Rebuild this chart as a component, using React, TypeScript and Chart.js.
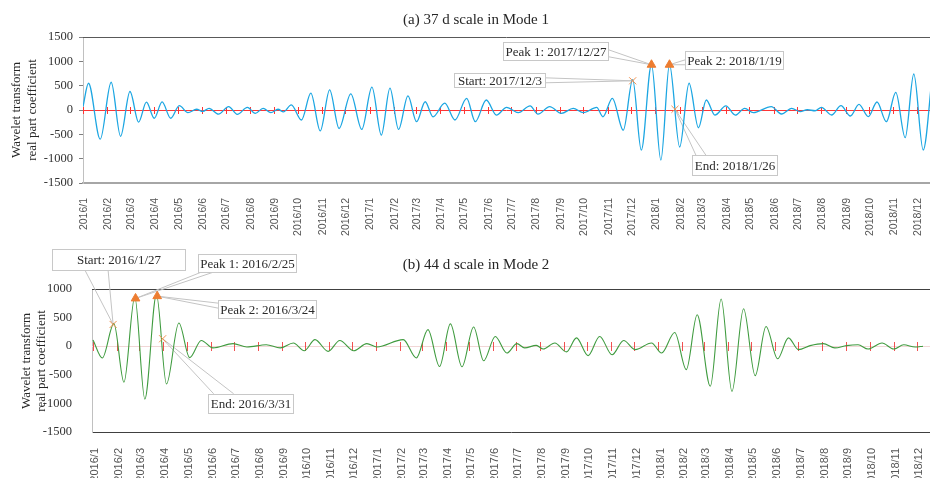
import React, { useEffect, useRef } from 'react';
import { Chart, registerables } from 'chart.js';

Chart.register(...registerables);

// ---------- data ----------
// Month tick labels (first day of each month)
const monthLabels = [
  '2016/1', '2016/2', '2016/3', '2016/4', '2016/5', '2016/6', '2016/7', '2016/8', '2016/9', '2016/10', '2016/11', '2016/12',
  '2017/1', '2017/2', '2017/3', '2017/4', '2017/5', '2017/6', '2017/7', '2017/8', '2017/9', '2017/10', '2017/11', '2017/12',
  '2018/1', '2018/2', '2018/3', '2018/4', '2018/5', '2018/6', '2018/7', '2018/8', '2018/9', '2018/10', '2018/11', '2018/12',
];

// Mode 1 (37 d scale): turning points, day index counted from 2016/1/1
const mode1Days = [
  0, 7, 22, 36, 48, 60, 71, 81, 91, 101, 112, 123, 134, 145, 153, 161, 173, 186, 197, 210, 220, 230, 240, 249, 256,
  266, 279, 291, 303, 315, 327, 342, 356, 369, 381, 392, 403, 415, 426, 437, 447, 462, 475, 490, 501, 515, 528,
  541, 556, 571, 581, 596, 611, 626, 639, 656, 664, 676, 690, 702, 713, 726, 738, 749, 762, 774, 786, 796, 807,
  821, 833, 845, 856, 879, 892, 905, 916, 925, 935, 943, 956, 968, 980, 991, 1003, 1014, 1026, 1038, 1050, 1061,
  1073, 1085,
];
const mode1Values = [
  70, 550, -600, 570, -540, 380, -250, 160, -170, 165, -170, 90, -55, 15, -30, 35, -85, 70, -90, 55, -70, 35, -55, 15, -40,
  105, -205, 345, -430, 415, -380, 330, -400, 470, -515, 450, -400, 290, -240, 170, -140, 140, -205, 240, -240, 205, -105,
  55, -55, 85, -85, 70, -70, 35, -55, 55, -140, 240, -415, 625, -825, 935, -1030, 935, -760, 550, -365, 205, -105,
  85, -105, 35, -55, 70, -82, 34, -34, 5, -15, 55, -103, 89, -123, 116, -137, 164, -240, 363, -569, 740,
  -822, 780,
];

// Mode 2 (44 d scale): turning points, day index counted from 2016/1/1
const mode2Days = [
  0, 12, 27, 40, 54, 67, 82, 95, 111, 125, 140, 155, 181, 199, 224, 242, 259, 273, 287, 304, 319, 337, 354, 367,
  401, 418, 433, 448, 462, 477, 492, 505, 520, 535, 548, 558, 573, 582, 597, 612, 625, 640, 655, 671, 686, 701,
  722, 735, 752, 767, 781, 798, 812, 826, 841, 856, 870, 885, 899, 912, 927, 944, 959, 974, 989, 1002, 1020, 1035,
  1048, 1063, 1073,
];
const mode2Values = [
  110, -205, 395, -630, 860, -925, 905, -660, 405, -200, 100, -30, 45, -15, 25, -30, 55, -80, 115, -90, 100, -80, 45, -15,
  115, -205, 290, -355, 390, -360, 335, -255, 170, -120, 45, -30, 15, -50, 55, -100, 145, -165, 170, -150, 100, -60,
  55, -120, 240, -410, 550, -700, 825, -790, 655, -515, 345, -220, 145, -60, 10, 45, -30, 10, 25, -50, 55, -50,
  25, -15, 0,
];

// Marked points
const mode1MarkLabels = ['Start: 2017/12/3', 'Peak 1: 2017/12/27', 'Peak 2: 2018/1/19', 'End: 2018/1/26'];
const mode1MarkDays = [702, 726, 749, 756];
const mode1MarkValues = [600, 930, 930, 15];

const mode2MarkLabels = ['Start: 2016/1/27', 'Peak 1: 2016/2/25', 'Peak 2: 2016/3/24', 'End: 2016/3/31'];
const mode2MarkDays = [26, 55, 83, 90];
const mode2MarkValues = [380, 835, 875, 130];

const titles = ['(a) 37 d scale in Mode 1', '(b) 44 d scale in Mode 2'];
const yTitle = ['Wavelet transform', 'real part coefficient'];

// ---------- helpers ----------
const BASE = Date.UTC(2016, 0, 1);
const monthDays = monthLabels.map((l) => {
  const [yy, mm] = l.split('/').map(Number);
  return (Date.UTC(yy, mm - 1, 1) - BASE) / 86400000;
});

const SERIF = "'Liberation Serif', 'Times New Roman', serif";
const SANS = "'Liberation Sans', Arial, sans-serif";
const ORANGE = '#ED7D31';

type Note = { dx: number; dy: number; w: number; h: number; a: [number, number][] };

interface DecorCfg {
  id: string;
  title: string;
  titleX: number;
  titleY: number;
  yTitleX: [number, number];
  yTitleY: number;
  zeroColor: string;
  tickColor: string;
  tickHalf: number;
  topColor: string;
  labels: string[];
  days: number[];
  values: number[];
  notes: Note[];
}

function makeDecor(cfg: DecorCfg) {
  const markerPx = (chart: any, i: number) => {
    const { x, y } = chart.scales;
    return [x.getPixelForValue(cfg.days[i]), y.getPixelForValue(cfg.values[i])];
  };
  return {
    id: cfg.id,
    beforeDatasetsDraw(chart: any) {
      const { ctx, chartArea: ca, scales } = chart;
      const { x, y } = scales;
      ctx.save();
      const y0 = Math.round(y.getPixelForValue(0)) + 0.5;
      ctx.lineWidth = 1;
      ctx.strokeStyle = cfg.zeroColor;
      ctx.beginPath();
      ctx.moveTo(ca.left, y0);
      ctx.lineTo(ca.right, y0);
      ctx.stroke();
      ctx.strokeStyle = cfg.tickColor;
      for (const d of monthDays) {
        const px = Math.round(x.getPixelForValue(d)) + 0.5;
        if (px < ca.left - 1 || px > ca.right) continue;
        ctx.beginPath();
        ctx.moveTo(px, y0 - cfg.tickHalf);
        ctx.lineTo(px, y0 + cfg.tickHalf);
        ctx.stroke();
      }
      // top frame line
      const yt = Math.round(ca.top) + 0.5;
      ctx.strokeStyle = cfg.topColor;
      ctx.beginPath();
      ctx.moveTo(ca.left, yt);
      ctx.lineTo(ca.right, yt);
      ctx.stroke();
      // leader lines
      ctx.strokeStyle = '#c4c4c4';
      cfg.notes.forEach((n, i) => {
        const [mx, my] = markerPx(chart, i);
        const bx = mx + n.dx;
        const by = my + n.dy;
        n.a.forEach(([ax, ay]) => {
          ctx.beginPath();
          ctx.moveTo(bx + ax, by + ay);
          ctx.lineTo(mx, my);
          ctx.stroke();
        });
      });
      ctx.restore();
    },
    afterDatasetsDraw(chart: any) {
      const { ctx } = chart;
      ctx.save();
      ctx.font = `13px ${SERIF}`;
      ctx.textAlign = 'center';
      ctx.textBaseline = 'middle';
      cfg.notes.forEach((n, i) => {
        const [mx, my] = markerPx(chart, i);
        const bx = Math.round(mx + n.dx) + 0.5;
        const by = Math.round(my + n.dy) + 0.5;
        ctx.fillStyle = '#ffffff';
        ctx.fillRect(bx, by, n.w, n.h);
        ctx.strokeStyle = '#c8c8c8';
        ctx.lineWidth = 1;
        ctx.strokeRect(bx, by, n.w, n.h);
        ctx.fillStyle = '#2b2b2b';
        ctx.fillText(cfg.labels[i], bx + n.w / 2, by + n.h / 2 + 1);
      });
      ctx.restore();
    },
    afterDraw(chart: any) {
      const { ctx } = chart;
      ctx.save();
      ctx.fillStyle = '#262626';
      ctx.textAlign = 'center';
      ctx.textBaseline = 'middle';
      ctx.font = `15px ${SERIF}`;
      ctx.fillText(cfg.title, cfg.titleX, cfg.titleY);
      ctx.font = `13px ${SERIF}`;
      yTitle.forEach((t, k) => {
        ctx.save();
        ctx.translate(cfg.yTitleX[k], cfg.yTitleY);
        ctx.rotate(-Math.PI / 2);
        ctx.fillText(t, 0, 0);
        ctx.restore();
      });
      ctx.restore();
    },
  };
}

function buildConfig(opts: {
  days: number[];
  values: number[];
  color: string;
  width: number;
  markDays: number[];
  markValues: number[];
  xMin: number;
  xMax: number;
  yMin: number;
  yMax: number;
  padTop: number;
  yWidth: number;
  xHeight: number;
  xPad: number;
  xOffset: number;
  xFont: number;
  xBorder: { color: string; width: number };
  yTicks: boolean;
  yPad: number;
  decor: any;
}) {
  const series = opts.days.map((d, i) => ({ x: d, y: opts.values[i] }));
  const peaks = [1, 2].map((i) => ({ x: opts.markDays[i], y: opts.markValues[i] }));
  const ends = [0, 3].map((i) => ({ x: opts.markDays[i], y: opts.markValues[i] }));
  return {
    type: 'line' as const,
    data: {
      datasets: [
        {
          data: series,
          borderColor: opts.color,
          borderWidth: opts.width,
          pointRadius: 0,
          cubicInterpolationMode: 'monotone' as const,
          fill: false,
          order: 3,
        },
        {
          data: peaks,
          showLine: false,
          pointStyle: 'triangle',
          pointRadius: 5,
          backgroundColor: ORANGE,
          borderColor: ORANGE,
          borderWidth: 1,
          order: 1,
        },
        {
          data: ends,
          showLine: false,
          pointStyle: 'crossRot',
          pointRadius: 5,
          borderColor: '#F0904F',
          borderWidth: 1,
          order: 2,
        },
      ],
    },
    options: {
      responsive: false,
      animation: false as const,
      devicePixelRatio: 1,
      events: [],
      layout: { autoPadding: false, padding: { top: opts.padTop, left: 0, right: 0, bottom: 0 } },
      plugins: { legend: { display: false }, tooltip: { enabled: false }, title: { display: false } },
      scales: {
        x: {
          type: 'linear' as const,
          min: opts.xMin,
          max: opts.xMax,
          afterBuildTicks: (s: any) => {
            s.ticks = monthDays.map((v) => ({ value: v }));
          },
          afterFit: (s: any) => {
            s.height = opts.xHeight;
            s.paddingLeft = 0;
            s.paddingRight = 0;
          },
          ticks: {
            autoSkip: false,
            minRotation: 90,
            maxRotation: 90,
            padding: opts.xPad,
            labelOffset: opts.xOffset,
            color: '#555555',
            font: { family: SANS, size: opts.xFont },
            callback: (_v: any, i: number) => monthLabels[i],
          },
          grid: { display: false },
          border: { display: true, color: opts.xBorder.color, width: opts.xBorder.width },
        },
        y: {
          min: opts.yMin,
          max: opts.yMax,
          afterFit: (s: any) => {
            s.width = opts.yWidth;
            s.paddingTop = 0;
            s.paddingBottom = 0;
          },
          ticks: {
            stepSize: 500,
            padding: opts.yPad,
            color: '#333333',
            font: { family: SERIF, size: 12.5 },
            callback: (v: any) => String(v),
          },
          grid: opts.yTicks
            ? { display: true, drawOnChartArea: false, drawTicks: true, tickLength: 4, color: '#7f7f7f' }
            : { display: false },
          border: { display: true, color: '#c0c0c0', width: 1 },
        },
      },
    },
    plugins: [opts.decor],
  };
}

export default function App() {
  const topRef = useRef<HTMLCanvasElement>(null);
  const botRef = useRef<HTMLCanvasElement>(null);

  useEffect(() => {
    const topDecor = makeDecor({
      id: 'decorTop',
      title: titles[0],
      titleX: 476,
      titleY: 20,
      yTitleX: [17, 33],
      yTitleY: 110,
      zeroColor: '#ff3434',
      tickColor: '#ff3434',
      tickHalf: 3.5,
      topColor: '#595959',
      labels: mode1MarkLabels,
      days: mode1MarkDays,
      values: mode1MarkValues,
      notes: [
        { dx: -179, dy: -8, w: 91, h: 14, a: [[91, 5], [91, 10]] },
        { dx: -148, dy: -23, w: 105, h: 18, a: [[105, 8], [105, 15]] },
        { dx: 16, dy: -14, w: 98, h: 18, a: [[0, 9], [0, 14]] },
        { dx: 17, dy: 46, w: 85, h: 20, a: [[4, 0], [14, 0]] },
      ],
    });
    const botDecor = makeDecor({
      id: 'decorBot',
      title: titles[1],
      titleX: 476,
      titleY: 25,
      yTitleX: [27, 42],
      yTitleY: 121,
      zeroColor: '#f1d6d6',
      tickColor: 'rgba(238,50,50,0.85)',
      tickHalf: 4.5,
      topColor: '#404040',
      labels: mode2MarkLabels,
      days: mode2MarkDays,
      values: mode2MarkValues,
      notes: [
        { dx: -61, dy: -75, w: 133, h: 21, a: [[33, 21], [56, 21]] },
        { dx: 62, dy: -44, w: 98, h: 18, a: [[3, 18], [15, 18]] },
        { dx: 61, dy: 4, w: 98, h: 18, a: [[0, 3], [0, 8]] },
        { dx: 45, dy: 55, w: 85, h: 19, a: [[6, 0], [26, 0]] },
      ],
    });

    const top = new Chart(
      topRef.current as HTMLCanvasElement,
      buildConfig({
        days: mode1Days,
        values: mode1Values,
        color: '#1ca6e2',
        width: 1.3,
        markDays: mode1MarkDays,
        markValues: mode1MarkValues,
        xMin: 0,
        xMax: 1081.7,
        yMin: -1500,
        yMax: 1500,
        padTop: 37,
        yWidth: 83,
        xHeight: 57,
        xPad: 7,
        xOffset: 1,
        xFont: 10.5,
        xBorder: { color: '#a6a6a6', width: 2 },
        yTicks: true,
        yPad: 6,
        decor: topDecor,
      }) as any
    );
    const bot = new Chart(
      botRef.current as HTMLCanvasElement,
      buildConfig({
        days: mode2Days,
        values: mode2Values,
        color: '#3f9b3f',
        width: 1.1,
        markDays: mode2MarkDays,
        markValues: mode2MarkValues,
        xMin: -1.3,
        xMax: 1082,
        yMin: -1500,
        yMax: 1000,
        padTop: 49,
        yWidth: 92,
        xHeight: 46,
        xPad: 8,
        xOffset: 2,
        xFont: 11,
        xBorder: { color: '#404040', width: 1 },
        yTicks: false,
        yPad: 12,
        decor: botDecor,
      }) as any
    );
    return () => {
      top.destroy();
      bot.destroy();
    };
  }, []);

  return (
    <div style={{ position: 'absolute', left: 0, top: 0, width: 930, height: 478, background: '#ffffff', overflow: 'hidden' }}>
      <canvas ref={topRef} width={930} height={240} style={{ position: 'absolute', left: 0, top: 0 }} />
      <canvas ref={botRef} width={930} height={238} style={{ position: 'absolute', left: 0, top: 240 }} />
    </div>
  );
}
